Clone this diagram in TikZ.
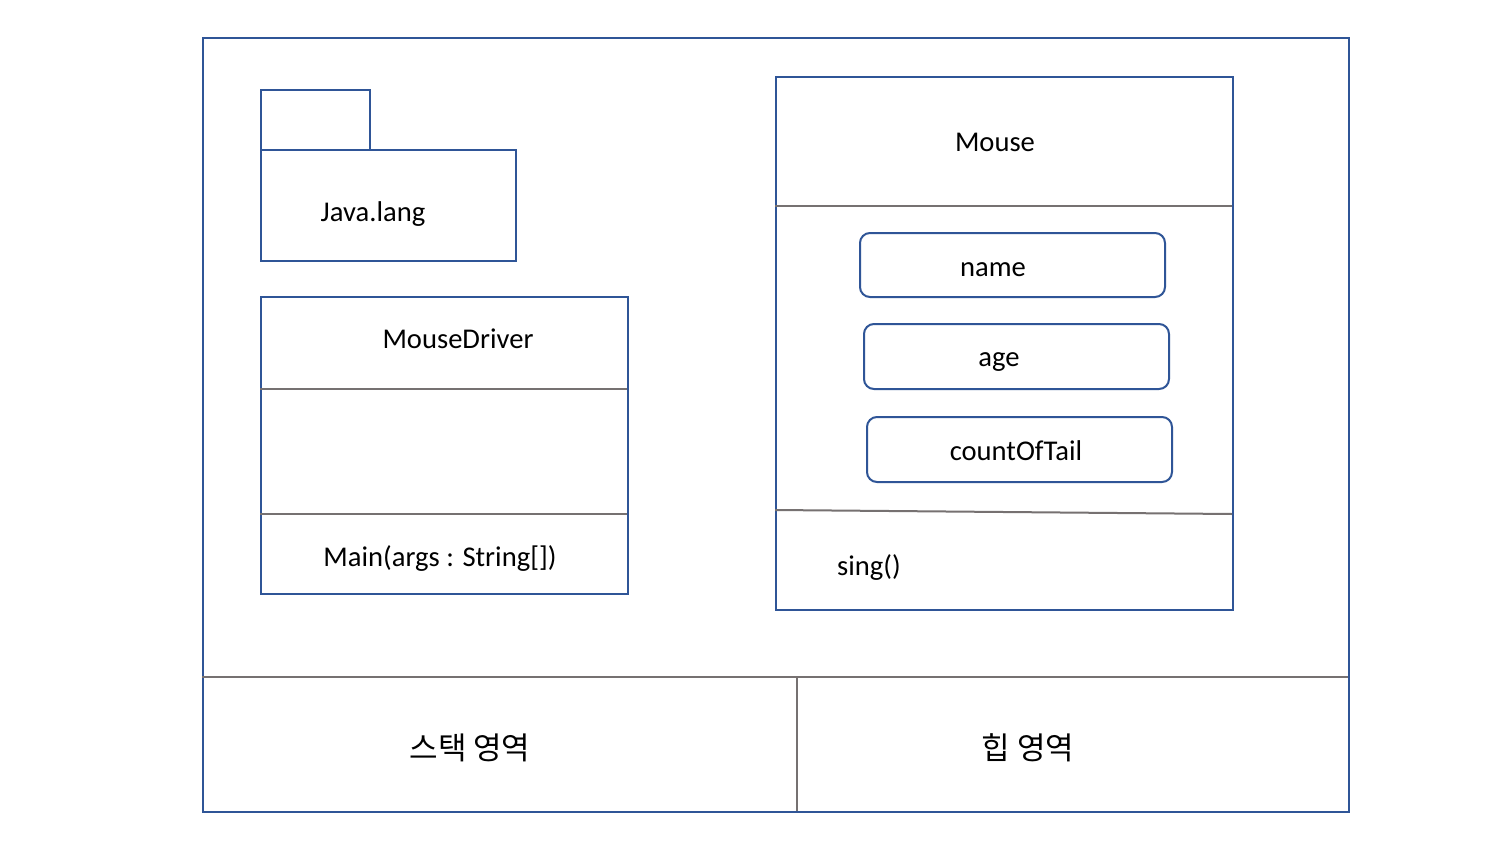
\documentclass[tikz,border=0pt]{standalone}
\usepackage{fontspec}
\setmainfont{Carlito}
\newfontfamily\kr{Noto Sans CJK KR}
\definecolor{bl}{HTML}{2F5597}
\definecolor{gr}{HTML}{767171}
\begin{document}
\begin{tikzpicture}[x=1pt,y=-1pt,
  box/.style={draw=bl,line width=2pt,anchor=north west,inner sep=0pt},
  rbox/.style={box,rounded corners=10pt},
  sep/.style={draw=gr,line width=2pt},
  lbl/.style={font=\fontsize{28.6}{32}\selectfont,inner sep=0pt,anchor=base},
  klbl/.style={font=\kr\fontsize{31}{36}\selectfont,inner sep=0pt,anchor=base}]
\useasboundingbox[fill=white] (0,0) rectangle (1510,848);
% outer frame
\node[box,minimum width=1146pt,minimum height=774pt] (outer) at (202,37) {};
\coordinate (hl) at (202,677);
\coordinate (hr) at (1348,677);
\coordinate (vt) at (797,677);
\coordinate (vb) at (797,811);
\draw[sep] (hl) -- (hr);
\draw[sep] (vt) -- (vb);
% Java.lang package
\node[box,minimum width=109pt,minimum height=60pt] (tab) at (260,89) {};
\node[box,minimum width=255pt,minimum height=111pt] (pkg) at (260,149) {};
\node[lbl] (jl) at (373,221) {Java.lang};
% MouseDriver
\node[box,minimum width=367pt,minimum height=297pt] (md) at (260,296) {};
\coordinate (md1l) at (260,389); \coordinate (md1r) at (627,389);
\coordinate (md2l) at (260,514); \coordinate (md2r) at (627,514);
\draw[sep] (md1l) -- (md1r);
\draw[sep] (md2l) -- (md2r);
\node[lbl] (mdn) at (458,348) {MouseDriver};
\node[lbl] (mdm) at (440,566) {Main(args : String[])};
% Mouse
\node[box,minimum width=457pt,minimum height=533pt] (ms) at (775,76) {};
\coordinate (ms1l) at (775,206); \coordinate (ms1r) at (1232,206);
\coordinate (ms2l) at (775,510); \coordinate (ms2r) at (1232,514);
\draw[sep] (ms1l) -- (ms1r);
\draw[sep] (ms2l) -- (ms2r);
\node[lbl] (msn) at (995,152) {Mouse};
\node[rbox,minimum width=305pt,minimum height=64pt] (f1) at (859,232) {};
\node[rbox,minimum width=305pt,minimum height=65pt] (f2) at (863,323) {};
\node[rbox,minimum width=305pt,minimum height=65pt] (f3) at (866,416) {};
\node[lbl] (f1t) at (993,276) {name};
\node[lbl] (f2t) at (999,366) {age};
\node[lbl] (f3t) at (1016,460) {countOfTail};
\node[lbl,anchor=base west] (sing) at (837,575) {sing()};
% bottom labels
\node[klbl] (stack) at (470,759) {스택 영역};
\node[klbl] (heap) at (1028,759) {힙 영역};
\end{tikzpicture}
\end{document}
